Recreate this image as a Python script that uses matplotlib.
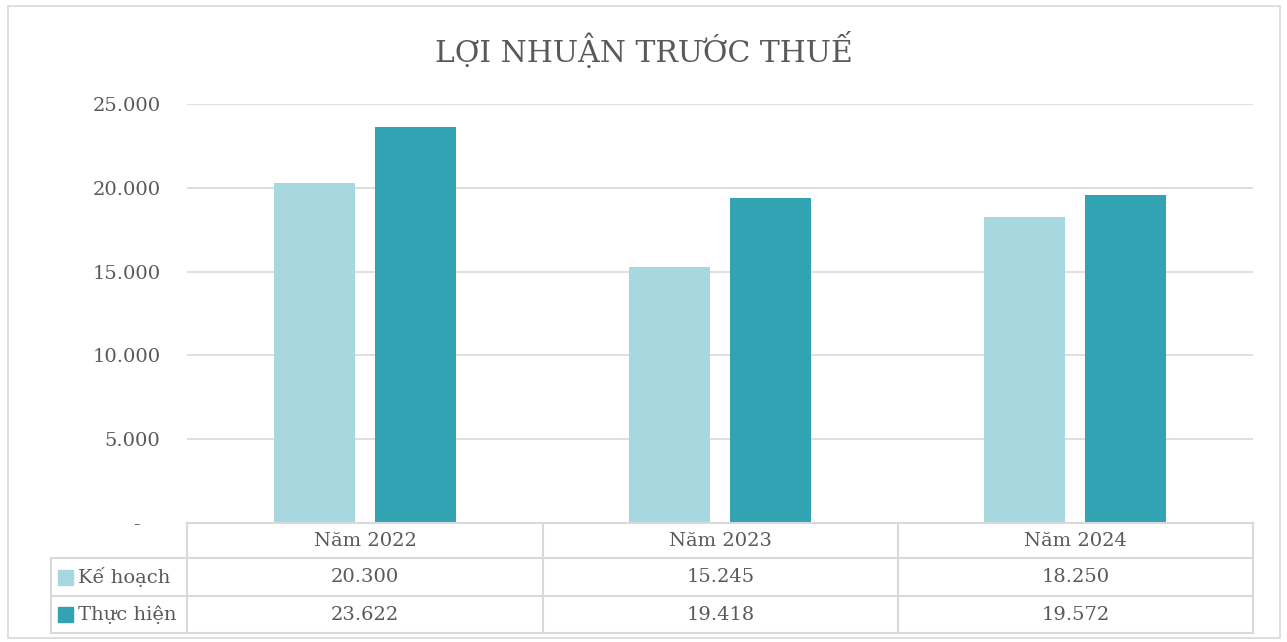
import numpy as np
import matplotlib.pyplot as plt
from matplotlib.patches import Rectangle
from matplotlib.lines import Line2D

categories = ['Năm 2022', 'Năm 2023', 'Năm 2024']
series_names = ['Kế hoạch', 'Thực hiện']
ke_hoach = [20300, 15245, 18250]
thuc_hien = [23622, 19418, 19572]
yticks = [0, 5000, 10000, 15000, 20000, 25000]

colors = ['#a8d8df', '#31a3b3']
txt = '#595959'
grid = '#d9d9d9'
W, H = 1287, 642
fs = 14

plt.rcParams['font.family'] = ['DejaVu Serif']

fig = plt.figure(figsize=(W / 100, H / 100), dpi=100)

def fx(px):
    return px / W

def fy(py):
    return 1 - py / H

# outer border
fig.patches.append(Rectangle((fx(8), fy(638)), fx(1280) - fx(8), fy(6) - fy(638),
                             transform=fig.transFigure, fill=False, edgecolor=grid, lw=1.2))

left, right, top, bottom = 187, 1253, 104, 523
ax = fig.add_axes([fx(left), fy(bottom), fx(right) - fx(left), fy(top) - fy(bottom)])

x = np.arange(len(categories))
bw = 0.228
off = 0.142
ax.bar(x - off, ke_hoach, bw, color=colors[0], zorder=3)
ax.bar(x + off, thuc_hien, bw, color=colors[1], zorder=3)

ax.set_xlim(-0.5, 2.5)
ax.set_ylim(0, 25000)
ax.set_yticks(yticks)
ax.set_yticklabels(['-\u2002\u2002' if v == 0 else f'{v:,}'.replace(',', '.') for v in yticks],
                   fontsize=fs, color=txt)
ax.tick_params(axis='y', length=0, pad=19)
ax.set_xticks([])
ax.yaxis.grid(True, color=grid, lw=1.2, zorder=0)
for s in ax.spines.values():
    s.set_visible(False)

fig.text(0.5, fy(50), 'LỢI NHUẬN TRƯỚC THUẾ', ha='center', va='center',
         fontsize=21.5, color=txt)

# data table
rows_y = [523, 558, 596, 633]
cols_x = [187, 543, 898, 1253]
lab_x = 51

def hline(x0, x1, y):
    fig.add_artist(Line2D([fx(x0), fx(x1)], [fy(y), fy(y)], transform=fig.transFigure,
                          color=grid, lw=1.5))

def vline(x, y0, y1):
    fig.add_artist(Line2D([fx(x), fx(x)], [fy(y0), fy(y1)], transform=fig.transFigure,
                          color=grid, lw=1.5))

hline(cols_x[0], cols_x[-1], rows_y[0])
for yy in rows_y[1:]:
    hline(lab_x, cols_x[-1], yy)
for xx in cols_x:
    vline(xx, rows_y[0], rows_y[-1])
vline(lab_x, rows_y[1], rows_y[-1])

for i, c in enumerate(categories):
    cx = (cols_x[i] + cols_x[i + 1]) / 2
    fig.text(fx(cx), fy((rows_y[0] + rows_y[1]) / 2 + 1), c, ha='center', va='center',
             fontsize=fs, color=txt)

for r, (name, vals) in enumerate(zip(series_names, [ke_hoach, thuc_hien])):
    cy = (rows_y[r + 1] + rows_y[r + 2]) / 2
    fig.patches.append(Rectangle((fx(58), fy(cy + 7.5)), fx(73) - fx(58), fy(cy - 7.5) - fy(cy + 7.5),
                                 transform=fig.transFigure, color=colors[r]))
    fig.text(fx(78), fy(cy), name, ha='left', va='center', fontsize=fs, color=txt)
    for i, v in enumerate(vals):
        cx = (cols_x[i] + cols_x[i + 1]) / 2
        fig.text(fx(cx), fy(cy), f'{v:,}'.replace(',', '.'), ha='center', va='center',
                 fontsize=fs, color=txt)

fig.savefig('out.png', dpi=100)
